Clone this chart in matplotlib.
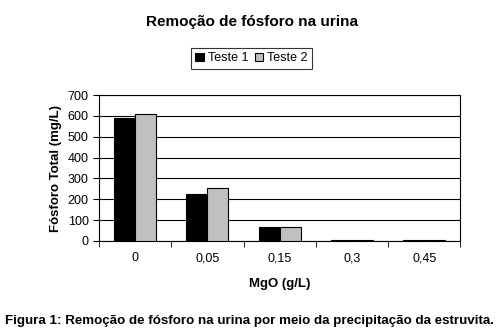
import numpy as np
import matplotlib.pyplot as plt

plt.rcParams['font.family'] = ['Liberation Sans', 'DejaVu Sans']

categorias = ["0", "0,05", "0,15", "0,3", "0,45"]
teste1 = [588, 225, 65, 3, 3]
teste2 = [608, 255, 65, 3, 3]

fig = plt.figure(figsize=(5.03, 3.36), dpi=100)
ax = fig.add_axes([0.197, 0.283, 0.718, 0.434])

x = np.arange(len(categorias))
w = 0.29
ax.bar(x - w / 2, teste1, w, color="black", edgecolor="black", linewidth=0.8, label="Teste 1", zorder=3)
ax.bar(x + w / 2, teste2, w, color="#c0c0c0", edgecolor="black", linewidth=0.8, label="Teste 2", zorder=3)

ax.set_xlim(-0.5, len(categorias) - 0.5)
ax.set_ylim(0, 700)
ax.set_yticks(range(0, 701, 100))
ax.yaxis.grid(True, color="black", linewidth=0.8, zorder=0)

ax.set_xticks(x)
ax.set_xticklabels(categorias, fontsize=9)
ax.tick_params(axis="x", length=0, pad=8)
ax.set_xticks(np.arange(-0.5, len(categorias), 1), minor=True)
ax.tick_params(axis="x", which="minor", length=4, direction="out")
ax.tick_params(axis="y", labelsize=9, length=4, direction="out")

for s in ax.spines.values():
    s.set_linewidth(0.8)
    s.set_color("black")

ax.set_ylabel("Fósforo Total (mg/L)", fontsize=9.5, fontweight="bold")
ax.set_xlabel("MgO (g/L)", fontsize=9.5, fontweight="bold", labelpad=10)

fig.text(0.5, 0.935, "Remoção de fósforo na urina", ha="center", va="center",
         fontsize=11, fontweight="bold")
leg = fig.legend(loc="center", bbox_to_anchor=(0.5, 0.826), ncol=2, fontsize=9,
                 frameon=True, fancybox=False, edgecolor="black", handlelength=0.7,
                 handleheight=0.7, handletextpad=0.3, columnspacing=0.5,
                 borderpad=0.35)
leg.get_frame().set_linewidth(0.8)

fig.text(0.01, 0.045, "Figura 1: Remoção de fósforo na urina por meio da precipitação da estruvita.",
         ha="left", va="center", fontsize=9.6, fontweight="bold")

fig.savefig("out.png", dpi=100)
